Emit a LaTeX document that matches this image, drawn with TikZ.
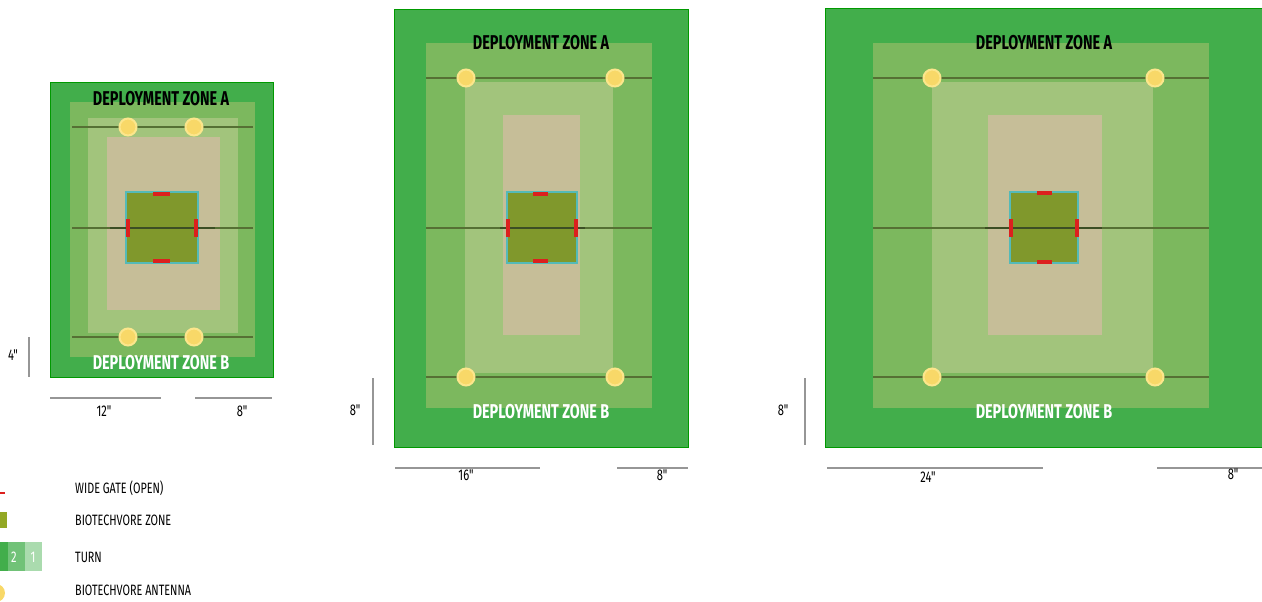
\documentclass[tikz,border=0pt]{standalone}
\usepackage{fontspec}
\newfontfamily\zonefont{Fira Sans}[FakeStretch=0.72]
\usetikzlibrary{positioning}
\definecolor{outer}{RGB}{66,174,75}
\definecolor{ringone}{RGB}{124,184,94}
\definecolor{ringtwo}{RGB}{162,196,124}
\definecolor{sand}{RGB}{198,190,152}
\definecolor{olive}{RGB}{128,152,44}
\definecolor{rimteal}{RGB}{84,186,184}
\definecolor{gatered}{RGB}{220,32,30}
\definecolor{antyellow}{RGB}{248,216,104}
\definecolor{antcore}{RGB}{252,230,140}
\definecolor{markline}{RGB}{86,112,52}
\definecolor{dimgray}{RGB}{150,150,150}

\begin{document}
\begin{tikzpicture}[x=1pt,y=-1pt,
	zonetext/.style={font=\zonefont\bfseries\fontsize{20}{20}\selectfont, inner sep=0pt},
	dimtext/.style={font=\zonefont\fontsize{15.5}{16}\selectfont, inner sep=0pt},
	keytext/.style={font=\zonefont\fontsize{15}{15}\selectfont, inner sep=0pt, anchor=west},
	antenna/.style={circle, fill=antyellow, draw=antcore, line width=2pt, minimum size=17pt, inner sep=0pt},
	gate/.style={gatered, line width=4pt},
	rim/.style={fill=olive, draw=rimteal, line width=2.5pt},
	midline/.style={markline, line width=1.3pt},
	dimline/.style={dimgray, line width=1.8pt}]
	
	\useasboundingbox (0,0) rectangle (1262,602);
	
	% Board 1 (small)
	\foreach \ax/\ay/\bx/\by/\col in {50/82/273/377/outer, 70/102/255/357/ringone, 88/118/238/333/ringtwo, 107/137/220/310/sand}
	\fill[\col] (\ax,\ay) rectangle (\bx,\by);
	\draw[black!40!green, line width=0.8pt] (50,82) rectangle (273,377);
	\draw[midline] (72,127) -- (253,127);
	\draw[midline] (72,337) -- (253,337);
	\draw[midline] (72,228) -- (253,228);
	\draw[rim] (126,192) rectangle (198,263);
	\draw[markline!70!black, line width=2pt] (110,228) -- (215,228);
	\draw[gate] (153,194) -- (170,194);
	\draw[gate] (153,261) -- (170,261);
	\draw[gate] (128,219) -- (128,237);
	\draw[gate] (196,219) -- (196,237);
	\foreach \x/\y/\name in {128/127/aoneA, 194/127/aoneB, 128/337/aoneC, 194/337/aoneD}
	\node[antenna] (\name) at (\x,\y) {};
	\node[zonetext] (zoneoneA) at (161,99) {DEPLOYMENT ZONE A};
	\node[zonetext, white] (zoneoneB) at (161,363) {DEPLOYMENT ZONE B};
	
	% Board 1 dimensions
	\draw[dimline] (29,337) -- (29,377);
	\draw[dimline] (50,398) -- (161,398);
	\draw[dimline] (195,398) -- (272,398);
	\node[dimtext] (hone) at (13,355) {4"};
	\node[dimtext] (wone) at (104,411) {12"};
	\node[dimtext] (eone) at (242,411) {8"};
	
	% Board 2 (medium)
	\foreach \ax/\ay/\bx/\by/\col in {394/9/688/447/outer, 426/43/652/408/ringone, 465/82/613/373/ringtwo, 503/115/580/335/sand}
	\fill[\col] (\ax,\ay) rectangle (\bx,\by);
	\draw[black!40!green, line width=0.8pt] (394,9) rectangle (688,447);
	\draw[midline] (426,78) -- (652,78);
	\draw[midline] (426,377) -- (652,377);
	\draw[midline] (426,228) -- (652,228);
	\draw[rim] (507,192) rectangle (577,263);
	\draw[markline!70!black, line width=2pt] (500,228) -- (585,228);
	\draw[gate] (533,194) -- (548,194);
	\draw[gate] (533,261) -- (548,261);
	\draw[gate] (508,219) -- (508,237);
	\draw[gate] (576,219) -- (576,237);
	\foreach \x/\y/\name in {466/78/atwoA, 615/78/atwoB, 466/377/atwoC, 615/377/atwoD}
	\node[antenna] (\name) at (\x,\y) {};
	\node[zonetext] (zonetwoA) at (541,43) {DEPLOYMENT ZONE A};
	\node[zonetext, white] (zonetwoB) at (541,412) {DEPLOYMENT ZONE B};
	
	% Board 2 dimensions
	\draw[dimline] (373,378) -- (373,445);
	\draw[dimline] (395,468) -- (540,468);
	\draw[dimline] (617,468) -- (688,468);
	\node[dimtext] (htwo) at (355,410) {8"};
	\node[dimtext] (wtwo) at (466,475) {16"};
	\node[dimtext] (etwo) at (662,475) {8"};
	
	% Board 3 (large)
	\foreach \ax/\ay/\bx/\by/\col in {825/8/1270/447/outer, 873/43/1209/408/ringone, 932/82/1153/373/ringtwo, 988/115/1102/335/sand}
	\fill[\col] (\ax,\ay) rectangle (\bx,\by);
	\draw[black!40!green, line width=0.8pt] (825,8) rectangle (1270,447);
	\draw[midline] (873,78) -- (1209,78);
	\draw[midline] (873,377) -- (1209,377);
	\draw[midline] (873,228) -- (1209,228);
	\draw[rim] (1010,192) rectangle (1078,263);
	\draw[markline!70!black, line width=2pt] (985,228) -- (1102,228);
	\draw[gate] (1037,193) -- (1052,193);
	\draw[gate] (1037,262) -- (1052,262);
	\draw[gate] (1011,219) -- (1011,237);
	\draw[gate] (1077,219) -- (1077,237);
	\foreach \x/\y/\name in {932/78/athreeA, 1155/78/athreeB, 932/377/athreeC, 1155/377/athreeD}
	\node[antenna] (\name) at (\x,\y) {};
	\node[zonetext] (zonethreeA) at (1044,43) {DEPLOYMENT ZONE A};
	\node[zonetext, white] (zonethreeB) at (1044,412) {DEPLOYMENT ZONE B};
	
	% Board 3 dimensions
	\draw[dimline] (805,378) -- (805,445);
	\draw[dimline] (827,468) -- (1043,468);
	\draw[dimline] (1157,468) -- (1262,468);
	\node[dimtext] (hthree) at (783,410) {8"};
	\node[dimtext] (wthree) at (928,477) {24"};
	\node[dimtext] (ethree) at (1233,474) {8"};
	
	% Legend
	\draw[gate, line width=2.5pt] (0,493) -- (5,493);
	\fill[olive!85!yellow] (0,512) rectangle (7,528);
	\fill[outer] (0,542) rectangle (8,571);
	\fill[outer!75!white] (8,542) rectangle (25,571);
	\fill[outer!45!white] (25,542) rectangle (42,571);
	\node[dimtext, white] (turntwo) at (14,557) {2};
	\node[dimtext, white] (turnone) at (33,557) {1};
	\fill[antyellow] (-4,593) circle (9);
	\node[keytext] (keygate) at (75,488) {WIDE GATE (OPEN)};
	\node[keytext] (keyzone) at (75,520) {BIOTECHVORE ZONE};
	\node[keytext] (keyturn) at (75,557) {TURN};
	\node[keytext] (keyant) at (75,590) {BIOTECHVORE ANTENNA};
\end{tikzpicture}
\end{document}
